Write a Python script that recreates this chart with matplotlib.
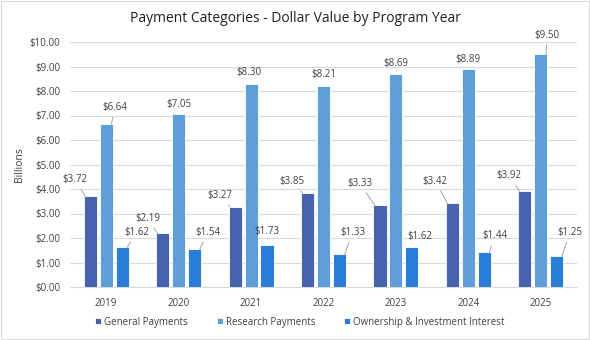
import matplotlib
matplotlib.use("Agg")
import matplotlib.pyplot as plt
import numpy as np

years = ["2019", "2020", "2021", "2022", "2023", "2024", "2025"]
general = [3.72, 2.19, 3.27, 3.85, 3.33, 3.42, 3.92]
research = [6.64, 7.05, 8.30, 8.21, 8.69, 8.89, 9.50]
ownership = [1.62, 1.54, 1.73, 1.33, 1.62, 1.44, 1.25]
series_names = ["General Payments", "Research Payments", "Ownership & Investment Interest"]
yticks = [0, 1, 2, 3, 4, 5, 6, 7, 8, 9, 10]

# label offsets (pixels) relative to bar top centre
gen_off = [(-10, 16), (-10, 15), (-10, 11), (-10, 11), (-15, 22), (-12, 22), (-11, 15)]
res_off = [(3, 17), (0, 10), (-2, 11), (0, 11), (0, 11), (0, 10), (1, 19)]
own_off = [(9, 15), (8, 17), (0, 13), (8, 22), (8, 11), (5, 16), (8, 24)]

colors = ["#4763AE", "#5F9ED6", "#2A7DD9"]

plt.rcParams['font.family'] = ['Open Sans', 'DejaVu Sans']
fig = plt.figure(figsize=(5.9, 3.4), dpi=100)
ax = fig.add_axes([70/590, 1-287/340, 507/590, 245/340])

x = np.arange(len(years))
w = 0.18
step = 0.22
all_series = [general, research, ownership]
all_offs = [gen_off, res_off, own_off]
for k, (vals, offs) in enumerate(zip(all_series, all_offs)):
    pos = x + (k - 1) * step
    ax.bar(pos, vals, width=w, color=colors[k], edgecolor='white', linewidth=0.6,
           label=series_names[k], zorder=3)
    for p, v, (dx, dy) in zip(pos, vals, offs):
        far = (dx * dx + dy * dy) ** 0.5 > 14
        tx = p
        if far:
            tx = p + np.sign(dx) * w * 0.4
        ax.annotate(f"${v:.2f}", xy=(tx, v), xytext=(dx, dy), textcoords='offset pixels',
                    ha='center', va='center', fontsize=7, color='#404040', zorder=4,
                    arrowprops=dict(arrowstyle='-', color='#A6A6A6', lw=0.7,
                                    shrinkA=1, shrinkB=0) if far else None)

ax.set_xlim(-0.5, len(years) - 0.5)
ax.set_ylim(0, 10)
ax.set_yticks(yticks)
ax.set_yticklabels([f"${t:.2f}" for t in yticks])
ax.set_xticks(x)
ax.set_xticklabels(years)
ax.tick_params(axis='both', length=0, labelsize=7, labelcolor='#404040')
ax.tick_params(axis='y', pad=7)
ax.tick_params(axis='x', pad=8)
ax.grid(axis='y', color='#D9D9D9', linewidth=0.8, zorder=0)
for s in ['top', 'right', 'left']:
    ax.spines[s].set_visible(False)
ax.spines['bottom'].set_color('#D9D9D9')
ax.spines['bottom'].set_linewidth(0.8)

ax.set_ylabel("Billions", fontsize=7.5, color='#404040', labelpad=3)
fig.text(295/590, 1-18/340, "Payment Categories - Dollar Value by Program Year",
         ha='center', va='center', fontsize=10, color='#202020')

leg = fig.legend(loc='center', bbox_to_anchor=(300/590, 1-322/340), ncol=3, frameon=False,
                 fontsize=7, handlelength=0.6, handleheight=0.6, handletextpad=0.3,
                 columnspacing=3.0, labelcolor='#404040')

fig.patches.append(plt.Rectangle((0.002, 0.003), 0.996, 0.994, transform=fig.transFigure,
                                 fill=False, edgecolor='#D9D9D9', linewidth=0.8))
fig.savefig("out.png", dpi=100)
